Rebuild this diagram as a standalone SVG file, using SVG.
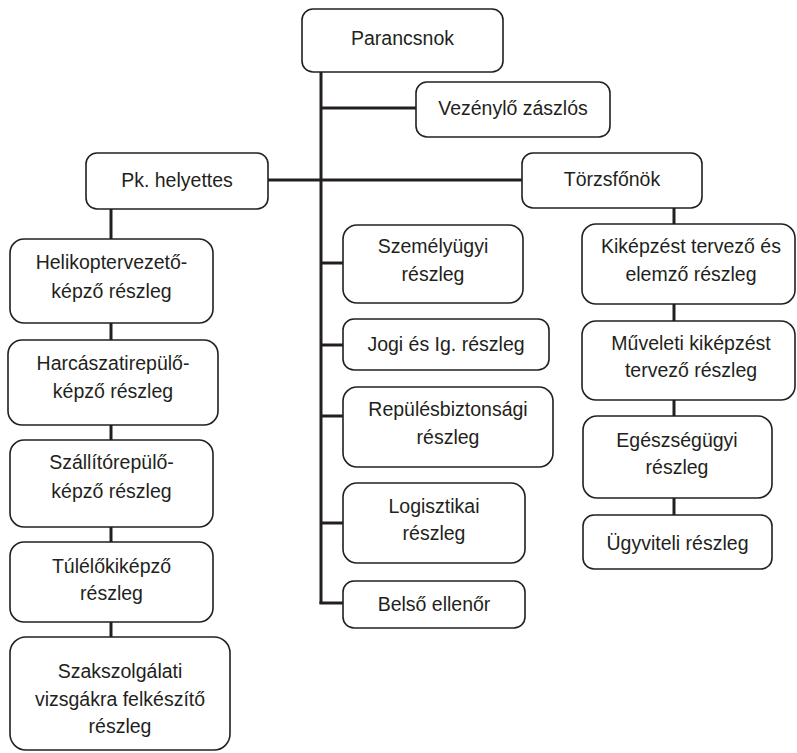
<svg xmlns="http://www.w3.org/2000/svg" width="797" height="753" viewBox="0 0 797 753">
  <style>
    .box { fill: #ffffff; stroke: #231f20; stroke-width: 1.6; }
    .lbl { font-family: "Liberation Sans", Arial, sans-serif; font-size: 19.5px; fill: #231f20; text-anchor: middle; }
    .conn { fill: none; stroke: #231f20; stroke-width: 3; }
  </style>
  <rect width="797" height="753" fill="#ffffff"/>

  <!-- connectors -->
  <g id="connectors" class="conn">
    <!-- main trunk -->
    <path d="M321 72 V604"/>
    <path d="M321 108 H416"/>
    <path d="M268 180 H522"/>
    <path d="M321 263 H343"/>
    <path d="M321 345 H343"/>
    <path d="M321 416 H343"/>
    <path d="M321 523 H343"/>
    <path d="M319.5 603 H343"/>
    <!-- deputy column -->
    <path d="M111 209 V239"/>
    <path d="M111 323 V340"/>
    <path d="M111 425 V440"/>
    <path d="M111 527 V542"/>
    <path d="M111 622 V637"/>
    <!-- chief of staff column -->
    <path d="M674 208 V224"/>
    <path d="M674 304 V321"/>
    <path d="M674 400 V416"/>
    <path d="M674 498 V515"/>
  </g>

  <g id="parancsnok">
    <rect class="box" x="302" y="9" width="201" height="63" rx="11"/>
    <text class="lbl" x="402.5" y="45">Parancsnok</text>
  </g>
  <g id="vezenylo">
    <rect class="box" x="416" y="82" width="194" height="55" rx="11"/>
    <text class="lbl" x="513" y="115">Vezénylő zászlós</text>
  </g>
  <g id="pk-helyettes">
    <rect class="box" x="86" y="153" width="182" height="56" rx="11"/>
    <text class="lbl" x="177" y="187">Pk. helyettes</text>
  </g>
  <g id="torzsfonok">
    <rect class="box" x="522" y="153" width="180" height="55" rx="11"/>
    <text class="lbl" x="612" y="186">Törzsfőnök</text>
  </g>

  <!-- deputy column -->
  <g id="helikopter">
    <rect class="box" x="10" y="239" width="203" height="84" rx="14"/>
    <text class="lbl" x="111.5" y="269">Helikoptervezető-</text>
    <text class="lbl" x="111.5" y="298">képző részleg</text>
  </g>
  <g id="harcaszati">
    <rect class="box" x="8" y="340" width="210" height="85" rx="14"/>
    <text class="lbl" x="113" y="370">Harcászatirepülő-</text>
    <text class="lbl" x="113" y="398">képző részleg</text>
  </g>
  <g id="szallito">
    <rect class="box" x="10" y="440" width="203" height="87" rx="14"/>
    <text class="lbl" x="111.5" y="469">Szállítórepülő-</text>
    <text class="lbl" x="111.5" y="498">képző részleg</text>
  </g>
  <g id="tulelo">
    <rect class="box" x="10" y="542" width="203" height="80" rx="14"/>
    <text class="lbl" x="111.5" y="573">Túlélőkiképző</text>
    <text class="lbl" x="111.5" y="600">részleg</text>
  </g>
  <g id="szakszolgalati">
    <rect class="box" x="10" y="637" width="220" height="113" rx="16"/>
    <text class="lbl" x="120" y="678">Szakszolgálati</text>
    <text class="lbl" x="120" y="706">vizsgákra felkészítő</text>
    <text class="lbl" x="120" y="733">részleg</text>
  </g>

  <!-- commander's direct units -->
  <g id="szemelyugyi">
    <rect class="box" x="343" y="225" width="180" height="78" rx="14"/>
    <text class="lbl" x="433" y="253">Személyügyi</text>
    <text class="lbl" x="433" y="281">részleg</text>
  </g>
  <g id="jogi">
    <rect class="box" x="343" y="319" width="206" height="51" rx="11"/>
    <text class="lbl" x="446" y="351">Jogi és Ig. részleg</text>
  </g>
  <g id="repulesbiztonsagi">
    <rect class="box" x="343" y="387" width="210" height="80" rx="14"/>
    <text class="lbl" x="448" y="416">Repülésbiztonsági</text>
    <text class="lbl" x="448" y="444">részleg</text>
  </g>
  <g id="logisztikai">
    <rect class="box" x="343" y="483" width="182" height="80" rx="14"/>
    <text class="lbl" x="434" y="513">Logisztikai</text>
    <text class="lbl" x="434" y="540">részleg</text>
  </g>
  <g id="belso-ellenor">
    <rect class="box" x="343" y="581" width="182" height="47" rx="11"/>
    <text class="lbl" x="434" y="611">Belső ellenőr</text>
  </g>

  <!-- chief of staff column -->
  <g id="kikepzest">
    <rect class="box" x="582" y="224" width="213" height="80" rx="14"/>
    <text class="lbl" x="691" y="253">Kiképzést tervező és</text>
    <text class="lbl" x="691" y="281">elemző részleg</text>
  </g>
  <g id="muveleti">
    <rect class="box" x="582" y="321" width="213" height="79" rx="14"/>
    <text class="lbl" x="691" y="350">Műveleti kiképzést</text>
    <text class="lbl" x="691" y="377">tervező részleg</text>
  </g>
  <g id="egeszsegugyi">
    <rect class="box" x="583" y="416" width="189" height="82" rx="14"/>
    <text class="lbl" x="677" y="447">Egészségügyi</text>
    <text class="lbl" x="677" y="474">részleg</text>
  </g>
  <g id="ugyviteli">
    <rect class="box" x="583" y="515" width="189" height="54" rx="11"/>
    <text class="lbl" x="677.5" y="550">Ügyviteli részleg</text>
  </g>
</svg>
